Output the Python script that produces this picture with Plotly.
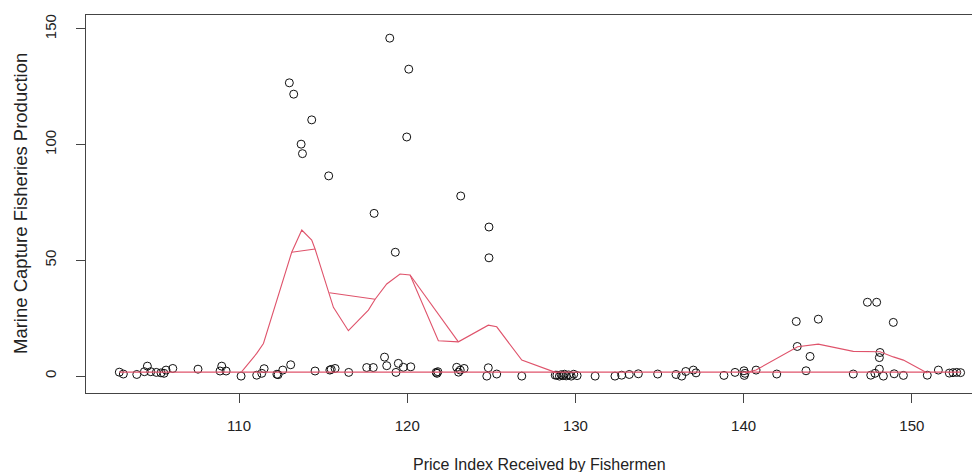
import plotly.graph_objects as go

# ---- scatter data (Price Index, Production) ----
px_idx = [
    102.88, 103.12, 103.92, 104.37, 104.55, 104.75, 105.08, 105.36, 105.54, 105.66,
    106.06, 107.56, 108.87, 108.97, 109.23, 110.12,
    111.05, 111.35, 111.49, 112.25, 112.32, 112.6, 113.07, 114.52, 115.40, 115.48,
    115.71, 116.52, 117.59, 117.98, 118.65, 118.78, 119.33, 119.47, 119.77, 120.21,
    121.72, 121.77, 121.82, 122.94, 123.05, 123.15, 123.38, 124.82, 124.73, 125.32,
    126.81, 128.8,
    128.9, 129.05, 129.15, 129.25, 129.35, 129.45, 129.6, 129.75, 129.9, 130.1,
    131.17, 132.35, 132.75, 133.2, 133.74, 134.89, 135.98, 136.32, 136.56, 137.01,
    137.17, 138.83, 139.49, 140.02, 140.04, 140.08, 140.74, 141.97,
    143.71, 146.52, 147.56, 147.81, 148.07, 148.31, 148.95, 149.5, 150.92, 151.58,
    152.23, 152.45, 152.67, 152.9,
    143.13, 144.44, 147.36, 147.91, 148.90, 143.19, 143.95, 148.11, 148.07,
    118.96, 120.09, 112.99, 113.25, 114.32, 119.97, 113.69, 113.77, 115.33, 123.18,
    118.03, 124.86, 119.29, 124.86,
]
production = [
    1.7, 0.9, 0.7, 1.9, 4.3, 1.9, 1.6, 1.4, 1.2, 2.6,
    3.3, 3.0, 2.2, 4.3, 2.2, 0.0,
    0.4, 1.2, 3.2, 0.8, 0.6, 2.6, 4.9, 2.2, 2.6, 2.9,
    3.3, 1.6, 3.7, 3.7, 8.2, 4.5, 1.6, 5.5, 3.8, 4.0,
    1.6, 1.2, 1.9, 3.8, 1.7, 2.6, 3.3, 3.6, 0.0, 0.9,
    0.0, 0.4,
    0.4, 0.0, 0.6, 0.2, 0.8, 0.1, 0.5, 0.0, 0.8, 0.2,
    0.0, 0.0, 0.4, 0.7, 1.0, 0.9, 0.7, 0.0, 2.0, 2.6,
    1.4, 0.3, 1.6, 2.3, 0.3, 1.2, 2.6, 0.9,
    2.3, 0.9, 0.4, 1.2, 3.0, 0.0, 1.0, 0.3, 0.4, 2.6,
    1.3, 1.5, 1.6, 1.5,
    23.6, 24.6, 31.9, 31.9, 23.2, 12.8, 8.5, 10.2, 8.0,
    146.0, 132.6, 126.7, 121.8, 110.7, 103.3, 100.2, 96.1, 86.5, 77.8,
    70.3, 64.4, 53.5, 51.1,
]

# ---- smoothed line, drawn in data order (segments separated by None) ----
fit_x = [
    102.88, 152.9, None,
    110.16, 111.05, 111.45, 113.13, 113.73, 114.32, 114.52, 115.37, 115.61, 116.5,
    117.69, 118.09, 118.78, 119.57, 120.17, 121.85, 123.04, 124.82, 125.32, 126.81,
    128.89, None,
    113.13, 114.52, None,
    115.37, 118.09, None,
    120.17, 123.04, None,
    140.08, 140.74, 143.21, 144.44, 146.52, 148.11, 148.9, 149.5, 150.92,
]
fit_y = [
    1.7, 1.7, None,
    1.9, 9.8, 14.1, 53.5, 63.1, 58.8, 54.9, 36.0, 29.7, 19.6,
    28.5, 33.2, 39.8, 44.1, 43.7, 15.3, 14.8, 22.0, 21.3, 6.9,
    1.4, None,
    53.5, 54.9, None,
    36.0, 33.2, None,
    43.7, 14.8, None,
    1.4, 2.6, 12.7, 13.8, 10.7, 10.5, 8.3, 6.9, 1.3,
]

x_ticks = [110, 120, 130, 140, 150]
y_ticks = [0, 50, 100, 150]

FONT = "Liberation Sans, Arial, sans-serif"

fig = go.Figure()
fig.add_trace(go.Scatter(
    x=px_idx, y=production, mode="markers",
    marker=dict(symbol="circle-open", size=8, color="#111111", line=dict(width=1, color="#111111")),
    hoverinfo="x+y", showlegend=False,
))
fig.add_trace(go.Scatter(
    x=fit_x, y=fit_y, mode="lines", connectgaps=False,
    line=dict(color="#DF536B", width=1.1),
    showlegend=False,
))

# plot area in figure coords: x 78..980, y 7..385 (page adds an 8px body margin)
fig.update_layout(
    width=980, height=472,
    margin=dict(l=78, r=0, t=7, b=87),
    paper_bgcolor="white", plot_bgcolor="white",
    font=dict(family=FONT, color="#222222"),
    xaxis=dict(
        range=[100.9, 154.53], tickvals=x_ticks, ticks="outside", ticklen=9,
        tickcolor="#444444", showline=True, linecolor="#444444", linewidth=1,
        mirror=True, showgrid=False, zeroline=False,
        tickfont=dict(size=15, family=FONT, color="#222222"), ticklabelstandoff=10,
    ),
    yaxis=dict(
        range=[-7.3, 156], tickvals=y_ticks, ticks="outside", ticklen=9,
        tickcolor="#444444", showline=True, linecolor="#444444", linewidth=1,
        mirror=False, showgrid=False, zeroline=False, tickangle=-90,
        tickfont=dict(size=15, family=FONT, color="#222222"), ticklabelstandoff=14,
    ),
    annotations=[
        dict(text="Price Index Received by Fishermen", xref="paper", yref="paper",
             x=(531 - 78) / 902, y=(385 - 456) / 378, xanchor="center", yanchor="middle",
             showarrow=False, font=dict(size=16, family=FONT, color="#222222")),
        dict(text="Marine Capture Fisheries Production", xref="paper", yref="paper",
             x=(12 - 78) / 902, y=0.5, xanchor="center", yanchor="middle", textangle=-90,
             showarrow=False, font=dict(size=18.5, family=FONT, color="#222222")),
    ],
)

fig.write_html("out.html")
